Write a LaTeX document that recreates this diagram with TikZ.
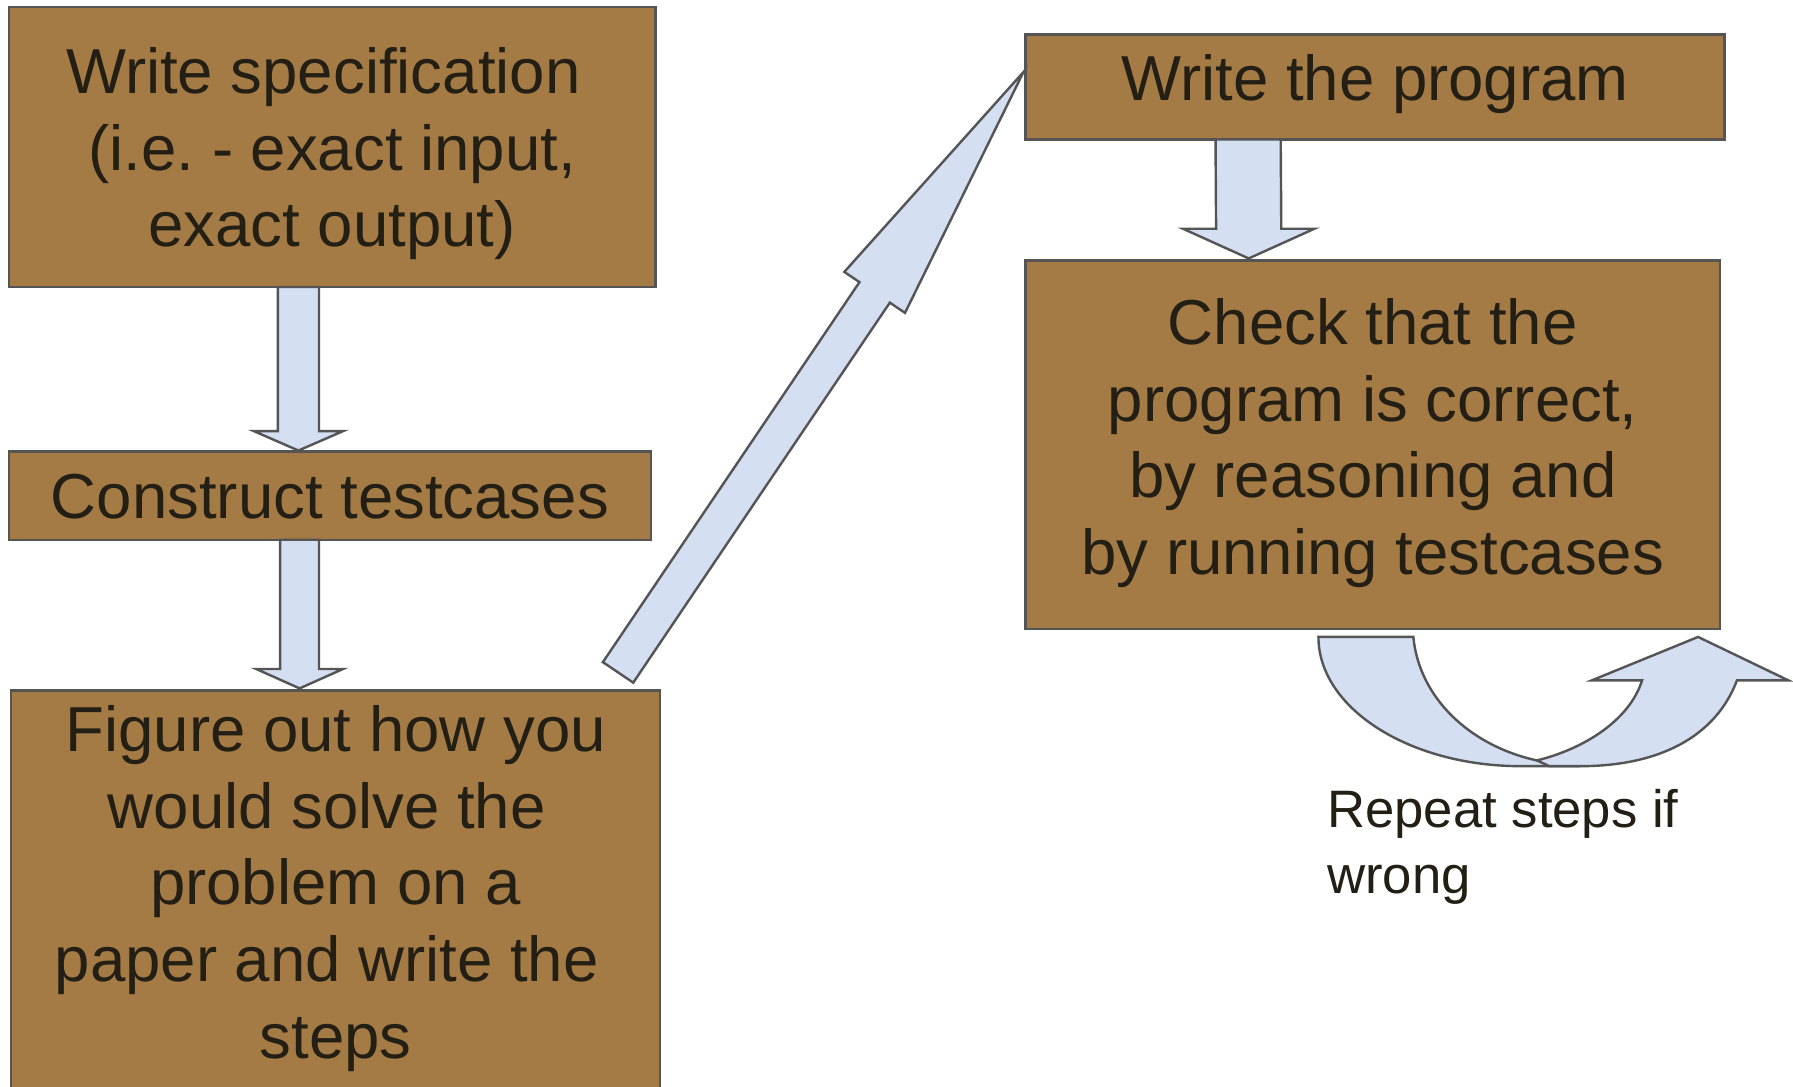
\documentclass[tikz,border=0pt]{standalone}
\usepackage{fontspec}
\setmainfont{Liberation Sans}
\usetikzlibrary{calc}
\frenchspacing
\definecolor{boxfill}{RGB}{164,123,69}
\definecolor{arrfill}{RGB}{212,223,242}
\definecolor{edgegray}{RGB}{85,85,85}
\definecolor{ink}{RGB}{35,31,20}
\newcommand\trailsp{\rule{.278em}{0pt}}
\newcommand\vblockarrow[5]{%
  \draw[blockarrow] ($(#1)+(-#3,0)$) -- ($(#1)+(#3,0)$) -- ($(#2)+(#3,-#5)$)
    -- ($(#2)+(#4,-#5)$) -- (#2) -- ($(#2)+(-#4,-#5)$) -- ($(#2)+(-#3,-#5)$) -- cycle;}
\begin{document}
\begin{tikzpicture}[x=0.01cm,y=-0.01cm,
  box/.style={draw=edgegray, fill=boxfill, line width=0.6pt, inner sep=0pt},
  boxtext/.style={text=ink, font=\fontsize{15.8}{19.07}\selectfont, align=center, inner sep=0pt},
  onetext/.style={boxtext, text height=0.73em, text depth=0.21em},
  notetext/.style={text=ink, font=\fontsize{13.1}{16.2}\selectfont, align=left, inner sep=0pt},
  blockarrow/.style={draw=edgegray, fill=arrfill, line width=0.6pt, line join=miter}]
\useasboundingbox (0,0) rectangle (1568,950);
\clip (0,0) rectangle (1568,950);
\fill[white] (0,0) rectangle (1568,950);

% boxes
\node[box, minimum width=5.65cm, minimum height=2.45cm] (b1) at (290.5,128.5) {};
\node[boxtext] (t1) at (290.5,134.5) {Write specification\trailsp\\(i.e. - exact input,\\exact output)};
\node[box, minimum width=5.61cm, minimum height=0.77cm] (b2) at (288.5,433.5) {};
\node[onetext] (t2) at (288.5,444.5) {Construct testcases};
\node[box, minimum width=5.67cm, minimum height=3.96cm] (b3) at (293.5,802) {};
\node[boxtext] (t3) at (293.5,777) {Figure out how you\\would solve the\trailsp\\problem on a\\paper and write the\trailsp\\steps};
\node[box, minimum width=6.11cm, minimum height=0.92cm] (b4) at (1202.5,76) {};
\node[onetext] (t4) at (1202.5,79) {Write the program};
\node[box, minimum width=6.07cm, minimum height=3.22cm] (b5) at (1200.5,389) {};
\node[boxtext] (t5) at (1200.5,387.5) {Check that the\\program is correct,\\by reasoning and\\by running testcases};

% vertical block arrows
\coordinate (a1s) at (261,251);
\coordinate (a1e) at (261,394);
\vblockarrow{a1s}{a1e}{18}{39}{17}
\coordinate (a2s) at (262,472);
\coordinate (a2e) at (262,602);
\vblockarrow{a2s}{a2e}{17}{38}{17}
\coordinate (a3s) at (1091.5,122);
\coordinate (a3e) at (1092,226);
\vblockarrow{a3s}{a3e}{28.5}{57.5}{26}

% diagonal block arrow
\coordinate (dT) at (540.5,588);
\coordinate (dP) at (895,63);
\coordinate (dH) at ($(dT)!0.633!(dP)$);
\draw[blockarrow] ($(dT)!0.16cm!90:(dP)$) -- ($(dH)!0.16cm!-90:(dT)$) -- ($(dH)!0.32cm!-90:(dT)$)
  -- (dP) -- ($(dH)!0.32cm!90:(dT)$) -- ($(dH)!0.16cm!90:(dT)$) -- ($(dT)!0.16cm!-90:(dP)$) -- cycle;

% curved u-turn arrow
\draw[blockarrow] (1153,557) -- (1236,557) .. controls (1241,610) and (1285,652) .. (1344,665)
  -- (1382,670) -- (1330,670) .. controls (1232,670) and (1153,619) .. (1153,557) -- cycle;
\draw[blockarrow] (1344,665) .. controls (1385,655) and (1425,630) .. (1436,595) -- (1392,595)
  -- (1485,557) -- (1564,595) -- (1519,595) .. controls (1500,645) and (1450,670) .. (1382,670)
  -- (1355,670) -- cycle;

\node[notetext, anchor=base west] (note) at (1160,781) {Repeat steps if\\wrong};
\end{tikzpicture}
\end{document}
